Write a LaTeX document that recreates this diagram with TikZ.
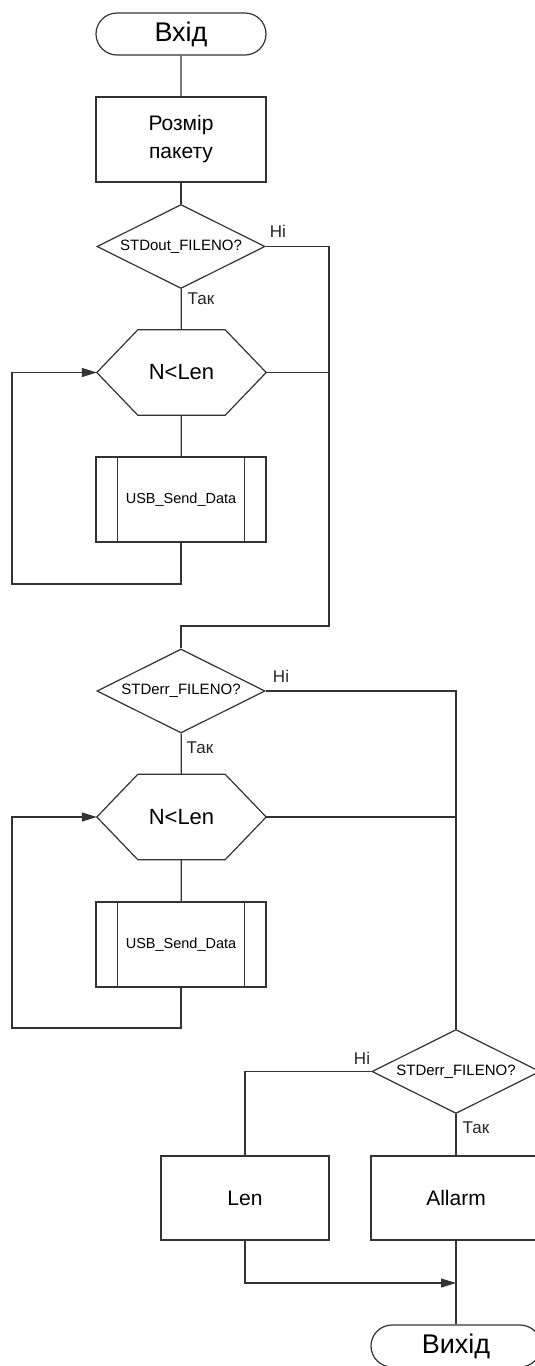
\documentclass[tikz,border=0pt]{standalone}
\usepackage{fontspec}
\setmainfont{Liberation Sans}
\usetikzlibrary{shapes.geometric,shapes.misc,arrows.meta,calc}
\tikzset{
 ln/.style={draw=black!80, line width=1.2pt},
 term/.style={ln, rounded rectangle, minimum width=170pt, minimum height=42pt, inner sep=0pt, font=\fontsize{27}{30}\selectfont},
 proc/.style={ln, rectangle, minimum width=170pt, minimum height=85pt, inner sep=0pt, font=\fontsize{21}{28}\selectfont, align=center},
 dec/.style={ln, diamond, shape aspect=2, minimum width=168pt, minimum height=84pt, inner sep=0pt, font=\fontsize{15}{18}\selectfont},
 hexa/.style={rectangle, minimum width=169pt, minimum height=85pt, inner sep=0pt, font=\fontsize{22}{26}\selectfont},
 sub/.style={ln, rectangle, minimum width=170pt, minimum height=85pt, inner sep=0pt, font=\fontsize{14.5}{18}\selectfont},
 lbl/.style={font=\fontsize{17}{20}\selectfont, inner sep=0pt, text=black!85},
 arr/.style={ln, -{Triangle[length=15pt,width=9pt]}},
}
\newcommand\hexframe[1]{\draw[ln] (#1.west) -- ([xshift=41pt]#1.north west) -- ([xshift=-41pt]#1.north east) -- (#1.east) -- ([xshift=-41pt]#1.south east) -- ([xshift=41pt]#1.south west) -- cycle;}
\newcommand\subframe[1]{\draw[ln] ([xshift=22pt]#1.north west) -- ([xshift=22pt]#1.south west) ([xshift=-22pt]#1.north east) -- ([xshift=-22pt]#1.south east);}
\begin{document}
\begin{tikzpicture}[x=1pt,y=-1pt]
\clip (0,0) rectangle (535,1366);
\fill[white] (0,0) rectangle (535,1366);

% column 1
\node[term] (start) at (181,34) {Вхід};
\node[proc] (size) at (181,139.5) {Розмір\\пакету};
\node[dec] (d1) at (181,246.5) {STDout\_FILENO?};
\node[hexa] (h1) at (181.5,372.5) {N<Len};
\hexframe{h1}
\node[sub] (s1) at (181,499.5) {USB\_Send\_Data};
\subframe{s1}

\node[dec] (d2) at (181,691) {STDerr\_FILENO?};
\node[hexa] (h2) at (181.5,817) {N<Len};
\hexframe{h2}
\node[sub] (s2) at (181,944.5) {USB\_Send\_Data};
\subframe{s2}

% column 2
\node[dec] (d3) at (456,1071.5) {STDerr\_FILENO?};
\node[proc, minimum width=168pt, minimum height=84pt] (len) at (245,1198) {Len};
\node[proc, minimum height=84pt] (alarm) at (456,1198) {Allarm};
\node[term] (stop) at (456,1346) {Вихід};

% labels
\node[lbl] (n1) at (278,231) {Ні};
\node[lbl] (y1) at (201,299) {Так};
\node[lbl] (n2) at (281,676) {Ні};
\node[lbl] (y2) at (200,748) {Так};
\node[lbl] (n3) at (362,1058) {Ні};
\node[lbl] (y3) at (476,1128) {Так};

% connectors
\draw[ln] (start) -- (size);
\draw[ln] (size) -- (d1);
\draw[ln] (d1) -- (h1);
\draw[ln] (h1) -- (s1);
\coordinate (l1) at (12,584);
\draw[arr] (s1.south) |- (l1) |- (h1.west);
\coordinate (r1) at (329,626);
\draw[ln] (d1.east) -| (r1) -| (d2.north);
\draw[ln] (h1.east) -- (h1.east -| r1);

\draw[ln] (d2) -- (h2);
\draw[ln] (h2) -- (s2);
\coordinate (l2) at (12,1028);
\draw[arr] (s2.south) |- (l2) |- (h2.west);
\draw[ln] (d2.east) -| (d3.north);
\draw[ln] (h2.east) -- (h2.east -| d3.north);

\draw[ln] (d3.west) -| (len.north);
\draw[ln] (d3.south) -- (alarm.north);
\coordinate (j) at (456,1283);
\draw[arr] (len.south) |- (j);
\draw[ln] (alarm.south) -- (stop.north);
\end{tikzpicture}
\end{document}
